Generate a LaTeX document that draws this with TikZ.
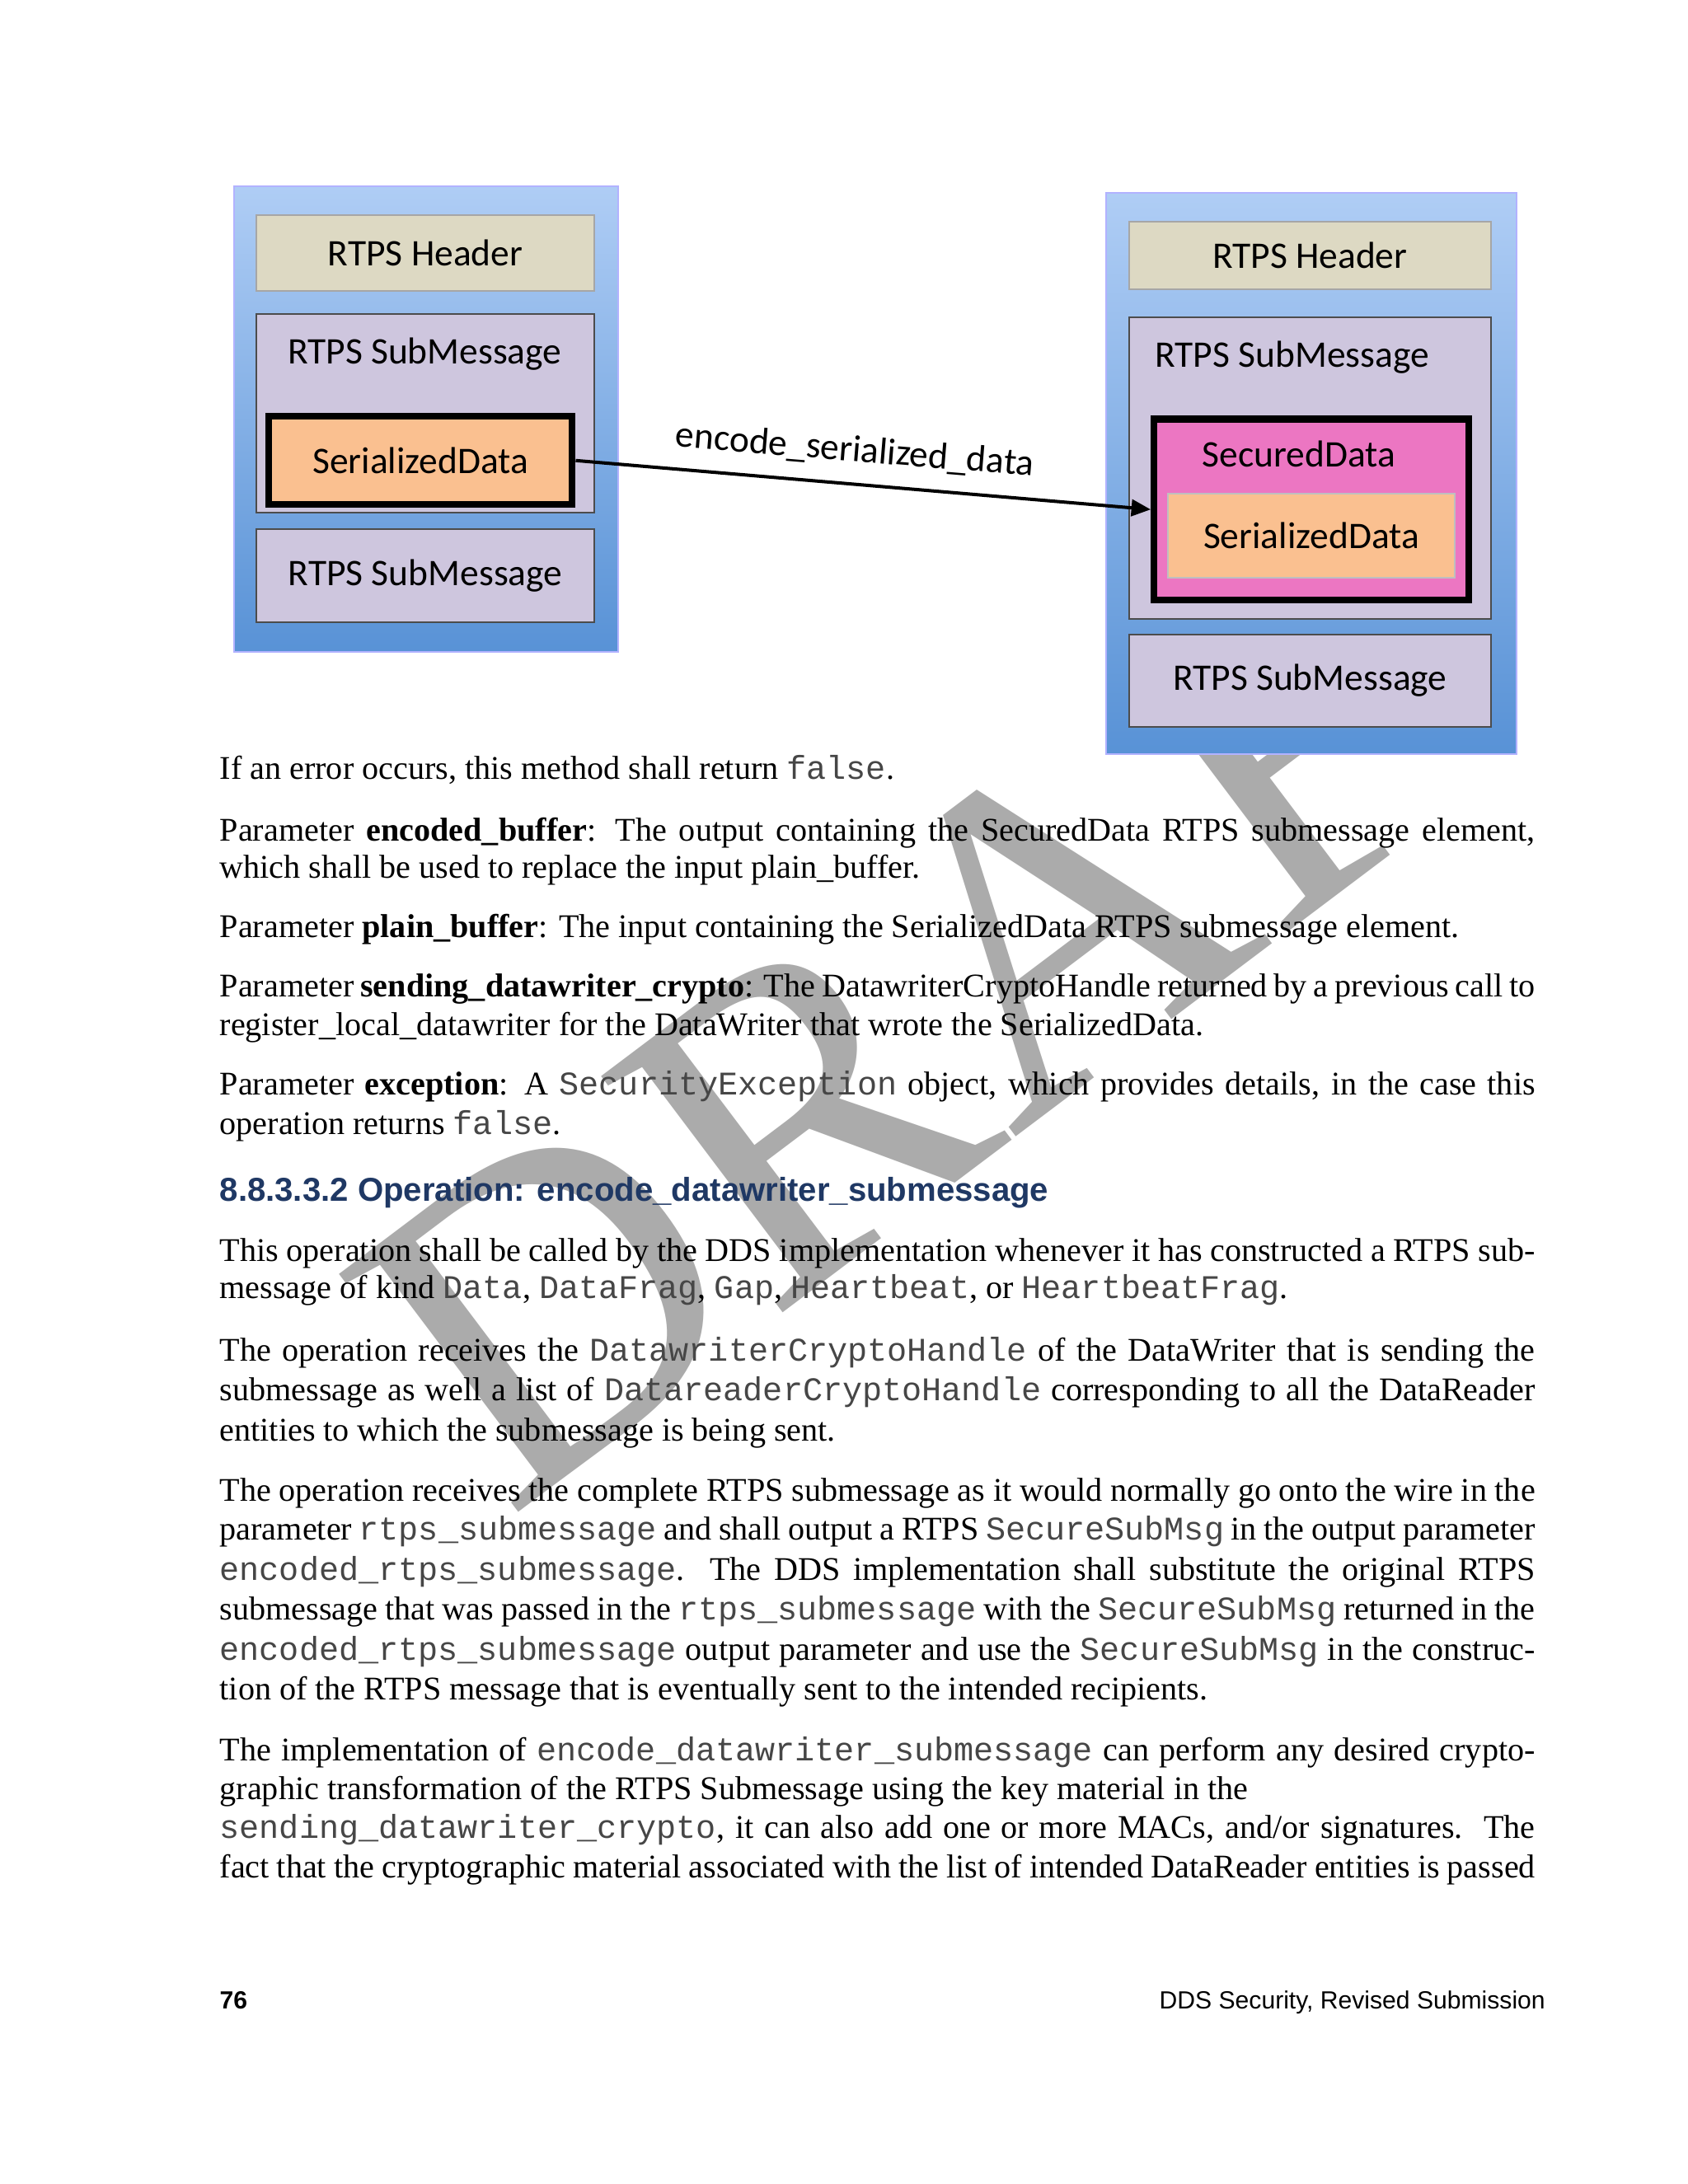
\documentclass[tikz,border=0pt]{standalone}
\usepackage{fontspec}
\setmainfont{Liberation Serif}
\setsansfont{Liberation Sans}
\setmonofont{Liberation Mono}
\newfontfamily\boxfont{Carlito}
\usetikzlibrary{arrows.meta}
\definecolor{codegray}{RGB}{70,70,70}
\definecolor{hdrc}{RGB}{221,217,195}
\definecolor{subc}{RGB}{206,198,222}
\definecolor{serc}{RGB}{250,192,144}
\definecolor{secc}{RGB}{236,118,194}
\definecolor{headblue}{RGB}{31,56,100}
\newcommand\cd[1]{{\ttfamily\color{codegray}#1}}
\newcommand\jl[1]{\hbox to 477pt{#1}}
\tikzset{
  outer/.style={draw=blue!30, top color={rgb,255:red,175;green,205;blue,245}, bottom color={rgb,255:red,88;green,146;blue,214}, line width=0.6pt},
  hdr/.style={draw=gray!70, fill=hdrc, line width=0.6pt, font=\boxfont\fontsize{13.6}{15}\selectfont},
  sub/.style={draw=gray!60!black, fill=subc, line width=0.6pt, font=\boxfont\fontsize{13.6}{15}\selectfont},
  ser/.style={draw=black, fill=serc, line width=2.5pt, font=\boxfont\fontsize{13.6}{15}\selectfont},
  serin/.style={draw=gray!50, fill=serc, line width=0.6pt, font=\boxfont\fontsize{13.6}{15}\selectfont},
  sec/.style={draw=black, fill=secc, line width=2.5pt},
  lbl/.style={font=\boxfont\fontsize{13.6}{15}\selectfont, inner sep=0pt},
  body/.style={anchor=base west, inner sep=0pt, font=\fontsize{12}{14}\selectfont},
}
\begin{document}
\begin{tikzpicture}[x=0.5pt,y=-0.5pt]
\useasboundingbox[fill=white] (0,0) rectangle (1224,1584);
% watermark
\begin{scope}
\clip (0,548) rectangle (1224,1584);
\node[text=black!33, rotate=37, font=\fontsize{165}{165}\selectfont, inner sep=0pt] (wm) at (735,690) {DRAFT};
\end{scope}
% left figure
\node[outer, minimum width=139pt, minimum height=169pt] (lo) at (309,304) {};
\node[hdr, minimum width=122.5pt, minimum height=27.5pt] (lh) at (308.5,183.5) {RTPS Header};
\node[sub, minimum width=122.5pt, minimum height=72pt] (ls1) at (308.5,300) {};
\node[lbl] (ls1t) at (308,257) {RTPS SubMessage};
\node[ser, minimum width=110pt, minimum height=32pt] (lser) at (305,334) {SerializedData};
\node[sub, minimum width=122.5pt, minimum height=33.5pt] (ls2) at (308.5,417.5) {RTPS SubMessage};
% right figure
\node[outer, minimum width=149pt, minimum height=203.5pt] (ro) at (951,343.5) {};
\node[hdr, minimum width=131pt, minimum height=24.5pt] (rh) at (950,185.5) {RTPS Header};
\node[sub, minimum width=131pt, minimum height=109.5pt] (rs1) at (950,339.5) {};
\node[lbl] (rs1t) at (937,259) {RTPS SubMessage};
\node[sec, minimum width=114pt, minimum height=65.5pt] (rsec) at (951,369.5) {};
\node[lbl] (rsect) at (942,329) {SecuredData};
\node[serin, minimum width=104pt, minimum height=30.5pt] (rser) at (951,388.5) {SerializedData};
\node[sub, minimum width=131pt, minimum height=33.5pt] (rs2) at (950,493.5) {RTPS SubMessage};
\draw[line width=1.2pt, -{Triangle[length=7pt,width=6pt]}] (lser.east) -- (rsec.west);
\node[lbl, rotate=-4.7] (arrl) at (620,327) {encode\_serialized\_data};
% text
\node[body] (t1) at (159,565) {If an error occurs, this method shall return \cd{false}.};
\node[body] (t2) at (159,610) {\jl{Parameter \textbf{encoded\_buffer}: The output containing the SecuredData RTPS submessage element,}};
\node[body] (t3) at (159,637) {which shall be used to replace the input plain\_buffer.};
\node[body] (t4) at (159,680) {Parameter \textbf{plain\_buffer}: The input containing the SerializedData RTPS submessage element.};
\node[body] (t5) at (159,723) {\jl{Parameter \textbf{sending\_datawriter\_crypto}: The DatawriterCryptoHandle returned by a previous call to}};
\node[body] (t6) at (159,751) {register\_local\_datawriter for the DataWriter that wrote the SerializedData.};
\node[body] (t7) at (159,794) {\jl{Parameter \textbf{exception}: A \cd{SecurityException}  object, which provides details, in the case this}};
\node[body] (t8) at (159,823) {operation returns \cd{false}.};
\node[anchor=base west, inner sep=0pt, text=headblue, font=\sffamily\bfseries\fontsize{12}{14}\selectfont] (h1) at (159,871) {8.8.3.3.2 Operation: encode\_datawriter\_submessage};
\node[body] (t10) at (159,915) {\jl{This operation shall be called by the DDS implementation whenever it has constructed a RTPS sub-}};
\node[body] (t11) at (159,942) {message of kind \cd{Data}, \cd{DataFrag}, \cd{Gap}, \cd{Heartbeat}, or \cd{HeartbeatFrag}.};
\node[body] (t12) at (159,987) {\jl{The operation receives the \cd{DatawriterCryptoHandle} of the DataWriter that is sending the}};
\node[body] (t13) at (159,1016) {\jl{submessage as well a list of \cd{DatareaderCryptoHandle} corresponding to all the DataReader}};
\node[body] (t14) at (159,1045) {entities to which the submessage is being sent.};
\node[body] (t15) at (159,1089) {\jl{The operation receives the complete RTPS submessage as it would normally go onto the wire in the}};
\node[body] (t16) at (159,1117) {\jl{parameter \cd{rtps\_submessage} and shall output a RTPS \cd{SecureSubMsg} in the output parameter}};
\node[body] (t17) at (159,1146) {\jl{\cd{encoded\_rtps\_submessage}. The DDS implementation shall substitute the original RTPS}};
\node[body] (t18) at (159,1175) {\jl{submessage that was passed in the \cd{rtps\_submessage} with the \cd{SecureSubMsg} returned in the}};
\node[body] (t19) at (159,1204) {\jl{\cd{encoded\_rtps\_submessage} output parameter and use the \cd{SecureSubMsg} in the construc-}};
\node[body] (t20) at (159,1233) {tion of the RTPS message that is eventually sent to the intended recipients.};
\node[body] (t21) at (159,1277) {\jl{The implementation of \cd{encode\_datawriter\_submessage} can perform any desired crypto-}};
\node[body] (t22) at (159,1305) {graphic transformation of the RTPS Submessage using the key material in the};
\node[body] (t23) at (159,1333) {\jl{\cd{sending\_datawriter\_crypto}, it can also add one or more MACs, and/or signatures.\ \ The}};
\node[body] (t24) at (159,1362) {\jl{fact that the cryptographic material associated with the list of intended DataReader entities is passed}};
% footer
\node[anchor=base west, inner sep=0pt, font=\sffamily\bfseries\fontsize{9}{11}\selectfont] (f1) at (159,1457) {76};
\node[anchor=base east, inner sep=0pt, font=\sffamily\fontsize{9}{11}\selectfont] (f2) at (1121,1457) {DDS Security, Revised Submission};
\end{tikzpicture}
\end{document}
